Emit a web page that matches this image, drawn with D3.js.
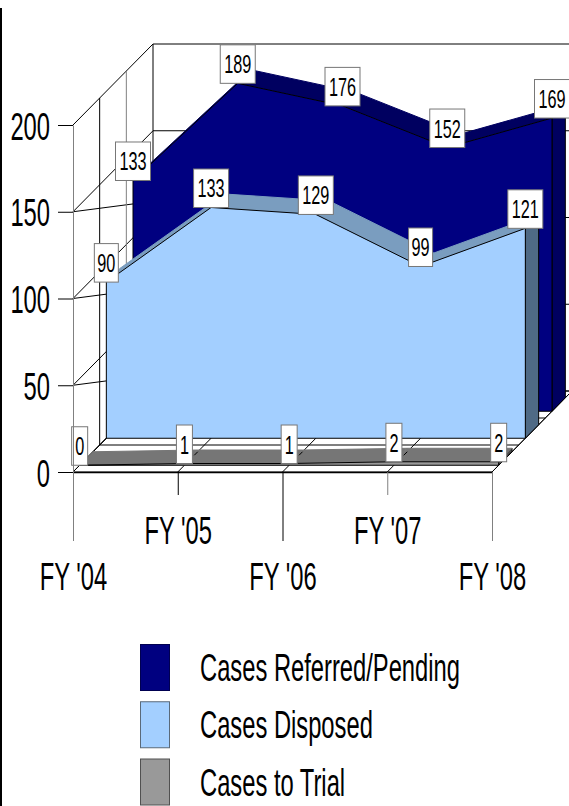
<!DOCTYPE html>
<html>
<head>
<meta charset="utf-8">
<script src="https://cdn.jsdelivr.net/npm/d3@7/dist/d3.min.js"></script>
<style>
  html, body { margin: 0; padding: 0; background: #fff; }
  svg { display: block; }
  text { font-family: "Liberation Sans", Arial, sans-serif; fill: #000; }
</style>
</head>
<body>
<div id="chart"></div>
<script>
const categories = ["FY '04", "FY '05", "FY '06", "FY '07", "FY '08"];
const yTicks = [0, 50, 100, 150, 200];
const casesToTrial = [0, 1, 1, 2, 2];
const casesDisposed = [90, 133, 129, 99, 121];
const casesReferred = [133, 189, 176, 152, 169];
const legendNames = ["Cases Referred/Pending", "Cases Disposed", "Cases to Trial"];

const width = 569, height = 806;
const squeeze = 0.625; // the whole picture is squashed sideways

const svg = d3.select("#chart").append("svg")
    .attr("width", width)
    .attr("height", height);

const xScale = d3.scalePoint().domain(categories).range([73, 492]);
const yScale = d3.scaleLinear().domain([0, 200]).range([472, 125]);
// depth runs over 3 slots, one per series
const depthX = d3.scaleLinear().domain([0, 3]).range([0, 80]);
const depthY = d3.scaleLinear().domain([0, 3]).range([0, 81]);

const px = (cat, d) => xScale(cat) + depthX(d);
const py = (val, d) => yScale(val) - depthY(d);
const poly = pts => "M" + pts.map(p => p.join(",")).join("L") + "Z";

const first = categories[0], last = categories[categories.length - 1];

// left border of the page
svg.append("rect").attr("x", 0).attr("y", 8).attr("width", 2).attr("height", 798).attr("fill", "#000");

// walls and floor
const grid = svg.append("g").attr("fill", "none").attr("stroke", "#000").attr("stroke-width", 1);

grid.append("path")
    .attr("d", poly([[px(first, 0), py(0, 0)], [px(last, 0), py(0, 0)], [px(last, 3), py(0, 3)], [px(first, 3), py(0, 3)]]))
    .attr("fill", "#fff");

yTicks.forEach(t => {
    grid.append("path").attr("d", d3.line()([[px(first, 0), py(t, 0)], [px(first, 3), py(t, 3)], [width + 5, py(t, 3)]]));
    if (t > 0 && t < 200) {
        // the flatter line running from the tick towards the series
        const slot = t === 150 ? 2.25 : 1.25;
        grid.append("path").attr("d", d3.line()([[px(first, 0), py(t, 0)], [px(first, slot), py(t, 0) - 0.13 * depthX(slot)]]));
    }
});

[1, 2, 3].forEach(d => {
    grid.append("line")
        .attr("x1", px(first, d)).attr("x2", px(first, d))
        .attr("y1", py(200, d)).attr("y2", py(0, d))
        .attr("stroke", d === 2 ? "#808080" : "#000");
    if (d < 3) {
        grid.append("line")
            .attr("x1", px(first, d)).attr("x2", px(last, d))
            .attr("y1", py(0, d)).attr("y2", py(0, d));
    }
});

categories.forEach(c => {
    grid.append("line")
        .attr("x1", px(c, 0)).attr("x2", px(c, 3))
        .attr("y1", py(0, 0)).attr("y2", py(0, 3));
});

// one 3d ribbon per series, back to front
function drawSeries(values, slot, colors) {
    const g = svg.append("g").attr("stroke", "#000").attr("stroke-width", 1).attr("stroke-linejoin", "round");
    const front = slot + 0.25, back = slot + 0.75;

    g.append("path")
        .attr("d", poly([[px(last, front), py(0, front)], [px(last, back), py(0, back)],
            [px(last, back), py(values[4], back)], [px(last, front), py(values[4], front)]]))
        .attr("fill", colors.side);

    categories.slice(1).forEach((c, i) => {
        const a = categories[i];
        g.append("path")
            .attr("d", poly([[px(a, front), py(values[i], front)], [px(c, front), py(values[i + 1], front)],
                [px(c, back), py(values[i + 1], back)], [px(a, back), py(values[i], back)]]))
            .attr("fill", colors.top)
            .attr("stroke", colors.top);
    });

    const area = d3.area()
        .x(d => px(d.cat, front))
        .y0(py(0, front))
        .y1(d => py(d.val, front));
    g.append("path")
        .datum(values.map((v, i) => ({ cat: categories[i], val: v })))
        .attr("d", area)
        .attr("fill", colors.face);
}

drawSeries(casesReferred, 2, { face: "#000080", top: "#000060", side: "#000060" });
drawSeries(casesDisposed, 1, { face: "#a3cfff", top: "#7a9dbf", side: "#4f6a85" });
drawSeries(casesToTrial, 0, { face: "#999999", top: "#767676", side: "#505050" });

// floor lines showing through the back of the trial ribbon
categories.slice(1).forEach(c => {
    svg.append("line")
        .attr("x1", px(c, 0.62)).attr("x2", px(c, 0.75))
        .attr("y1", py(0, 0.62)).attr("y2", py(0, 0.75))
        .attr("stroke", "#000");
});

// value labels
const stretchText = (sel, x, y, anchor) => sel
    .attr("text-anchor", anchor)
    .attr("transform", `translate(${x},${y}) scale(${squeeze},1)`);

function drawLabels(values, slot) {
    const d = slot + 0.25;
    values.forEach((v, i) => {
        const s = String(v);
        const w = s.length === 3 ? 35 : s.length === 2 ? 24 : 16;
        const x = px(categories[i], d), y = py(v, d);
        svg.append("rect")
            .attr("x", x - w / 2).attr("y", y - 38.5)
            .attr("width", w).attr("height", 38.5)
            .attr("fill", "#fff")
            .attr("stroke", "#777")
            .attr("stroke-width", 1);
        svg.append("text")
            .attr("font-size", 26)
            .text(s)
            .call(stretchText, x, y - 10, "middle");
    });
}
drawLabels(casesReferred, 2);
drawLabels(casesDisposed, 1);
drawLabels(casesToTrial, 0);

// y axis
const yAxis = svg.append("g")
    .attr("transform", "translate(" + xScale(first) + ",0)")
    .call(d3.axisLeft(yScale).tickValues(yTicks).tickSize(15).tickSizeOuter(0).tickPadding(0));
yAxis.select(".domain").attr("stroke", "#808080");
yAxis.selectAll(".tick line").attr("stroke", "#000");
yAxis.selectAll(".tick text").each(function (d) {
    d3.select(this)
        .attr("x", null).attr("dy", null)
        .attr("font-size", 38)
        .call(stretchText, -23, 14, "end");
});

// x axis, labels staggered on two rows
const xAxis = svg.append("g")
    .attr("transform", "translate(0," + yScale(0) + ")")
    .call(d3.axisBottom(xScale).tickSize(0).tickSizeOuter(0));
xAxis.select(".domain").attr("stroke", "#000").attr("stroke-width", 1.5);
xAxis.selectAll(".tick line")
    .attr("y2", (d, i) => i % 2 ? 23 : 69)
    .attr("stroke", (d, i) => i % 4 === 0 || i === 3 ? "#808080" : "#000");
xAxis.selectAll(".tick text").each(function (d, i) {
    d3.select(this)
        .attr("y", null).attr("dy", null)
        .attr("font-size", 38)
        .call(stretchText, 0, i % 2 ? 72 : 118, "middle");
});

// legend
const legendColors = ["#000080", "#a3cfff", "#999999"];
const legendStroke = ["#000050", "#5a6a7a", "#505050"];
const legendRow = d3.scalePoint().domain(legendNames).range([644, 758.5]);
legendNames.forEach((name, i) => {
    const y = legendRow(name);
    svg.append("rect")
        .attr("x", 140.5).attr("y", y + 0.5)
        .attr("width", 29).attr("height", 46)
        .attr("fill", legendColors[i])
        .attr("stroke", legendStroke[i]);
    svg.append("text")
        .attr("font-size", 38)
        .text(name)
        .call(stretchText, 200, y + 37, "start");
});
</script>
</body>
</html>
